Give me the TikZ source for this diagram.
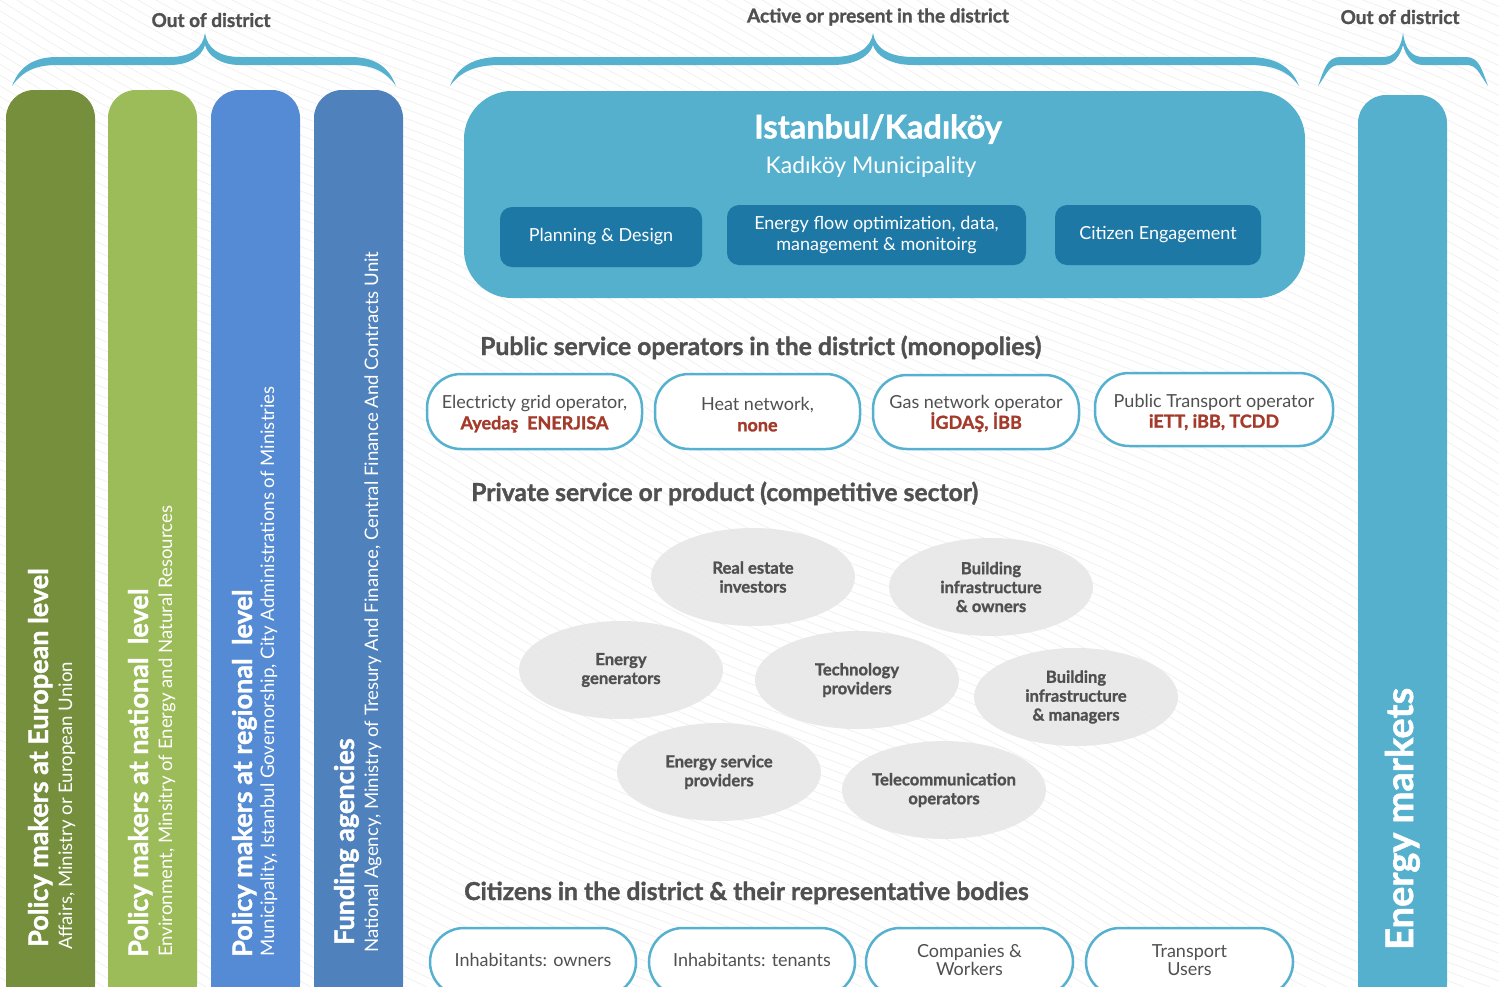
\documentclass[tikz,border=0pt]{standalone}
\usepackage{fontspec}
\setmainfont{Lato}[BoldFeatures={FakeBold=1.3}]
\usetikzlibrary{shapes.geometric}
\definecolor{bracec}{HTML}{56B1CF}
\definecolor{colA}{HTML}{758F3D}
\definecolor{colB}{HTML}{9CBB59}
\definecolor{colC}{HTML}{548BD4}
\definecolor{colD}{HTML}{4F81BD}
\definecolor{tealc}{HTML}{55B0CE}
\definecolor{dtealc}{HTML}{1D78A6}
\definecolor{txtc}{HTML}{505050}
\definecolor{redc}{HTML}{A33A2A}
\definecolor{ellc}{HTML}{E6E6E6}
\definecolor{wavec}{HTML}{EEEEEE}
\newcommand\fs[1]{\pgfmathsetmacro\fsb{#1*1.2}\fontsize{#1}{\fsb}\selectfont}
\newcommand\mybrace[5]{% L T R a b
\fill[bracec] (#1,86) .. controls (#1+6,70) and (#1+#4*0.4,57) .. (#1+#4,57) -- (#2-#5,57)
 .. controls (#2-#5*0.4,57) and (#2-2,48) .. (#2,33)
 .. controls (#2+2,48) and (#2+#5*0.4,57) .. (#2+#5,57) -- (#3-#4,57)
 .. controls (#3-#4*0.4,57) and (#3-6,70) .. (#3,86)
 .. controls (#3-10,72) and (#3-#4*0.5,65) .. (#3-#4,65) -- (#2+#5,65)
 .. controls (#2+#5*0.45,65) and (#2+3,56) .. (#2,45)
 .. controls (#2-3,56) and (#2-#5*0.45,65) .. (#2-#5,65) -- (#1+#4,65)
 .. controls (#1+#4*0.5,65) and (#1+10,72) .. (#1,86) -- cycle;}
\tikzset{
 lbl/.style={text=txtc,font=\fs{19}\bfseries,inner sep=0},
 head/.style={text=txtc,font=\fs{24.7}\bfseries,inner sep=0,anchor=base west},
 ctitle/.style={text=white,font=\fs{27}\bfseries,inner sep=0,anchor=base west,rotate=90},
 csub/.style={text=white,font=\fs{18.6},inner sep=0,anchor=base west,rotate=90},
 inbox/.style={fill=dtealc,rounded corners=12pt,text=white,font=\fs{18},align=center,inner sep=0,minimum height=60pt},
 pill/.style={draw=bracec,line width=2.5pt,fill=white,rounded corners=34pt,inner sep=0},
 ptext/.style={text=txtc,font=\fs{18},align=center,inner sep=0},
 blob/.style={ellipse,fill=ellc,fill opacity=0.85,text opacity=1,minimum width=204pt,minimum height=98pt,text=txtc,font=\fs{16.6}\bfseries,align=center,inner sep=0}
}
\newcommand\rd{\color{redc}\bfseries}
\begin{document}
\begin{tikzpicture}[x=1pt,y=-1pt]
\clip (0,0) rectangle (1499,986);
\fill[white] (0,0) rectangle (1499,986);
% faint background waves
\foreach \c in {-760,-750,...,1000}{
  \draw[wavec,line width=0.6pt] plot[smooth,domain=0:1499,samples=31] (\x,{\c+0.5*\x+14*sin(\x*0.55+\c*0.3)});
}
% braces and labels
\mybrace{12}{205}{396}{45}{35}
\mybrace{450}{873}{1299}{50}{40}
\mybrace{1318}{1403}{1488}{22}{20}
\node[lbl] (l1) at (211,20) {Out of district};
\node[lbl] (l2) at (878,17) {Active or present in the district};
\node[lbl] (l3) at (1400,17) {Out of district};
% columns
\fill[colA, rounded corners=28pt] (6,90) rectangle (95,1012);
\fill[colB, rounded corners=28pt] (108,90) rectangle (197,1012);
\fill[colC, rounded corners=28pt] (211,90) rectangle (300,1012);
\fill[colD, rounded corners=28pt] (314,90) rectangle (403,1012);
\fill[tealc, rounded corners=28pt] (1358,95) rectangle (1447,1012);
\node[ctitle] (t1) at (48,947) {Policy makers at European level};
\node[csub] (s1) at (72,950) {Affairs, Ministry or European Union};
\node[ctitle] (t2) at (148,957) {Policy makers at national\ \ level};
\node[csub] (s2) at (172,957) {Environment, Minsitry of Energy and Natural Resources};
\node[ctitle] (t3) at (252,957) {Policy makers at regional\ \ level};
\node[csub] (s3) at (274,957) {Municipality, Istanbul Governorship, City Administrations of Ministries};
\node[ctitle] (t4) at (354,945) {Funding agencies};
\node[csub] (s4) at (378,953) {National Agency, Ministry of Tresury And Finance, Central Finance And Contracts Unit};
\node[ctitle,font=\fs{38}\bfseries] (t5) at (1413,950) {Energy markets};
% municipality box
\node[fill=tealc,rounded corners=48pt,minimum width=841pt,minimum height=207pt,inner sep=0] (muni) at (884.5,194.5) {};
\node[text=white,font=\fs{32.5}\bfseries,inner sep=0] (mt) at (878,129) {Istanbul/Kadıköy};
\node[text=white,font=\fs{23},inner sep=0] (ms) at (871,167) {Kadıköy Municipality};
\node[inbox,minimum width=202pt] (b1) at (601,237) {Planning \& Design};
\node[inbox,minimum width=299pt] (b2) at (876.5,235) {Energy flow optimization, data,\\[-1pt]management \& monitoirg};
\node[inbox,minimum width=206pt] (b3) at (1158,235) {Citizen Engagement};
% headings
\node[head] (h1) at (480,355) {Public service operators in the district (monopolies)};
\node[head] (h2) at (471,501) {Private service or product (competitive sector)};
\node[head] (h3) at (464,900) {Citizens in the district \& their representative bodies};
% public service pills
\node[pill,minimum width=215pt,minimum height=75pt] (p1) at (534.5,411.5) {};
\node[pill,minimum width=205pt,minimum height=75pt] (p2) at (757.5,411.5) {};
\node[pill,minimum width=206pt,minimum height=74pt] (p3) at (976,412) {};
\node[pill,minimum width=238pt,minimum height=73pt] (p4) at (1214,409.5) {};
\node[ptext] (p1t) at ([yshift=-2.5pt]p1.center) {Electricty grid operator,\\[-1pt]{\rd Ayedaş\ \ ENERJISA}};
\node[ptext] (p2t) at ([yshift=-3pt]p2.center) {Heat network,\\[-1pt]{\rd none}};
\node[ptext] (p3t) at ([yshift=-1.5pt]p3.center) {Gas network operator\\[-1pt]{\rd İGDAŞ, İBB}};
\node[ptext] (p4t) at ([yshift=-2.5pt]p4.center) {Public Transport operator\\[-1pt]{\rd iETT, iBB, TCDD}};
% private ellipses
\node[blob] (e1) at (753,577) {Real estate\\[-1pt]investors};
\node[blob] (e2) at (991,587) {Building\\[-1pt]infrastructure\\[-1pt]\& owners};
\node[blob] (e3) at (621,670) {Energy\\[-1pt]generators};
\node[blob] (e4) at (857,680) {Technology\\[-1pt]providers};
\node[blob] (e5) at (1076,697) {Building\\[-1pt]infrastructure\\[-1pt]\& managers};
\node[blob] (e6) at (719,772) {Energy service\\[-1pt]providers};
\node[blob] (e7) at (944,790) {Telecommunication\\[-1pt]operators};
% citizens pills
\node[pill,minimum width=206pt,minimum height=68pt] (c1) at (533,962) {};
\node[pill,minimum width=206pt,minimum height=68pt] (c2) at (752,962) {};
\node[pill,minimum width=207pt,minimum height=68pt] (c3) at (969.5,962) {};
\node[pill,minimum width=207pt,minimum height=68pt] (c4) at (1189.5,962) {};
\node[ptext] (c1t) at ([yshift=2pt]c1.center) {Inhabitants: owners};
\node[ptext] (c2t) at ([yshift=2pt]c2.center) {Inhabitants: tenants};
\node[ptext] (c3t) at ([yshift=2pt]c3.center) {Companies \&\\[-3pt]Workers};
\node[ptext] (c4t) at ([yshift=2pt]c4.center) {Transport\\[-3pt]Users};
\end{tikzpicture}
\end{document}
